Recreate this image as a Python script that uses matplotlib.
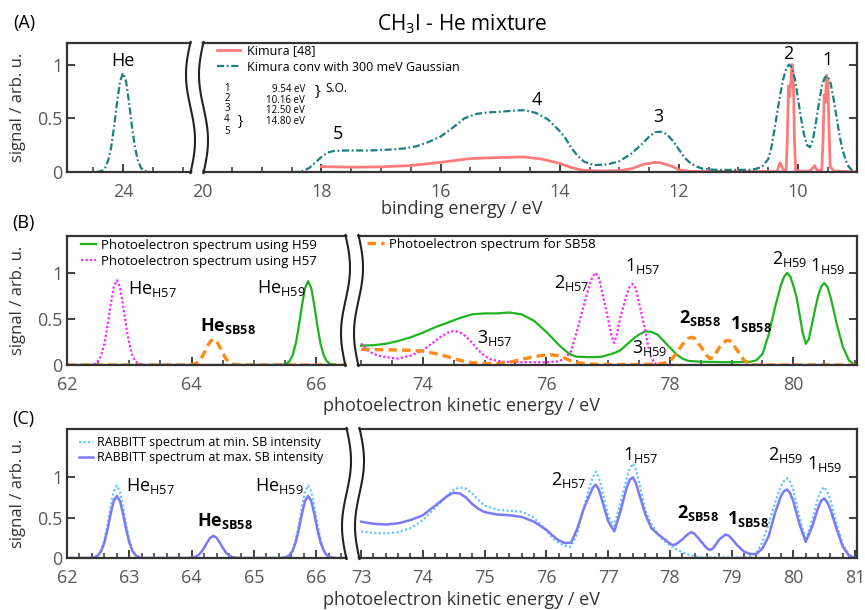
import numpy as np
import matplotlib
matplotlib.use('Agg')
import matplotlib.pyplot as plt
from matplotlib.lines import Line2D
from matplotlib.patches import Polygon
from matplotlib.ticker import MultipleLocator, FixedLocator

# ------------------------------------------------------------------ data
# Panel A (binding energy, eV)
kimura_E = [18.0, 17.5, 17.0, 16.5, 16.0, 15.5, 15.0, 14.6, 14.3, 14.0,
            13.8, 13.6, 13.3, 13.0, 12.8, 12.6, 12.4, 12.3, 12.1, 12.0,
            11.8, 11.0, 10.5, 10.35, 10.32, 10.30, 10.27, 10.24, 10.20, 10.18,
            10.16, 10.14, 10.12, 10.10, 10.08, 10.06, 10.04, 9.95, 9.80, 9.75,
            9.72, 9.70, 9.65, 9.60, 9.58, 9.56, 9.54, 9.52, 9.50, 9.48,
            9.46, 9.40, 9.20, 9.00]
kimura_S = [0.05, 0.045, 0.048, 0.06, 0.09, 0.125, 0.135, 0.14, 0.12, 0.08,
            0.04, 0.015, 0.01, 0.012, 0.03, 0.07, 0.09, 0.085, 0.05, 0.02,
            0.005, 0.005, 0.005, 0.005, 0.06, 0.085, 0.05, 0.01, 0.01, 0.3,
            0.8, 0.7, 0.85, 1.0, 0.9, 0.3, 0.02, 0.005, 0.01, 0.04,
            0.06, 0.03, 0.01, 0.02, 0.3, 0.72, 0.65, 0.9, 0.85, 0.4,
            0.05, 0.01, 0.005, 0.0]

conv_E = [18.5, 18.4, 18.3, 18.2, 18.1, 18.0, 17.9, 17.8,
          17.6, 17.4, 17.2, 17.0, 16.8, 16.6, 16.4, 16.2, 16.0, 15.8,
          15.6, 15.4, 15.2, 15.0, 14.8, 14.6, 14.4, 14.2, 14.0,
          13.9, 13.8, 13.7, 13.6, 13.5, 13.4,
          13.2, 13.0, 12.8, 12.6, 12.5, 12.4, 12.3, 12.2, 12.1, 12.0,
          11.9, 11.8, 11.7, 11.6, 11.4, 11.0, 10.8, 10.7, 10.6, 10.5,
          10.45, 10.4, 10.35, 10.3, 10.25, 10.2, 10.15, 10.1, 10.05, 10.0,
          9.95, 9.9, 9.85, 9.8, 9.75, 9.7, 9.65, 9.6, 9.55, 9.5,
          9.45, 9.4, 9.35, 9.3, 9.25, 9.2, 9.15, 9.1, 9.05, 9.0]
conv_S = [0.0, 0.0, 0.01, 0.04, 0.09, 0.14, 0.18, 0.195,
          0.2, 0.2, 0.2, 0.205, 0.21, 0.22, 0.24, 0.28, 0.33, 0.41,
          0.5, 0.54, 0.555, 0.56, 0.57, 0.575, 0.55, 0.49, 0.38,
          0.31, 0.22, 0.15, 0.1, 0.075, 0.065,
          0.07, 0.1, 0.17, 0.27, 0.33, 0.37, 0.375, 0.35, 0.29, 0.21,
          0.13, 0.08, 0.05, 0.03, 0.02, 0.02, 0.02, 0.03, 0.05, 0.12,
          0.22, 0.38, 0.55, 0.72, 0.86, 0.96, 1.0, 0.97, 0.86, 0.68,
          0.5, 0.35, 0.25, 0.23, 0.3, 0.46, 0.64, 0.8, 0.88, 0.89,
          0.82, 0.67, 0.5, 0.33, 0.2, 0.11, 0.05, 0.02, 0.005, 0.0]

heA_E = [24.45, 24.4, 24.35, 24.3, 24.25, 24.2, 24.15, 24.1, 24.05, 24.0,
         23.95, 23.9, 23.85, 23.8, 23.75, 23.7, 23.65, 23.6, 23.55]
heA_S = [0, 0.004, 0.013, 0.040, 0.105, 0.229, 0.421, 0.650, 0.844, 0.92,
         0.844, 0.650, 0.421, 0.229, 0.105, 0.040, 0.013, 0.004, 0]

# Panel B (photoelectron kinetic energy, eV) - left piece
magL_E = [62.0, 62.35, 62.4, 62.45, 62.5, 62.55, 62.6, 62.65, 62.7, 62.75,
          62.8, 62.85, 62.9, 62.95, 63.0, 63.05, 63.1, 63.15, 63.2, 63.25, 66.6]
magL_S = [0, 0, 0.004, 0.013, 0.040, 0.105, 0.229, 0.421, 0.650, 0.844,
          0.92, 0.844, 0.650, 0.421, 0.229, 0.105, 0.040, 0.013, 0.004, 0, 0]
orgL_E = [62.0, 63.9, 63.95, 64.0, 64.05, 64.1, 64.15, 64.2, 64.25, 64.3,
          64.35, 64.4, 64.45, 64.5, 64.55, 64.6, 64.65, 64.7, 64.75, 64.8, 66.6]
orgL_S = [0, 0, 0.001, 0.004, 0.012, 0.032, 0.070, 0.128, 0.198, 0.257,
          0.28, 0.257, 0.198, 0.128, 0.070, 0.032, 0.012, 0.004, 0.001, 0, 0]
grnL_E = [62.0, 65.42, 65.47, 65.52, 65.57, 65.62, 65.67, 65.72, 65.77, 65.82,
          65.87, 65.92, 65.97, 66.02, 66.07, 66.12, 66.17, 66.22, 66.27, 66.32, 66.6]
grnL_S = [0, 0, 0.004, 0.013, 0.040, 0.104, 0.227, 0.417, 0.643, 0.834,
          0.91, 0.834, 0.643, 0.417, 0.227, 0.104, 0.040, 0.013, 0.004, 0, 0]

# Panel B - right piece
grnR_E = [73.0, 73.2, 73.4, 73.6, 73.8, 74.0, 74.2, 74.4, 74.6, 74.8,
          75.0, 75.2, 75.4, 75.6, 75.8, 76.0, 76.1, 76.2, 76.3, 76.4,
          76.5, 76.7, 76.9, 77.0, 77.1, 77.2, 77.3, 77.4, 77.5, 77.6,
          77.7, 77.8, 77.9, 78.0, 78.1, 78.2, 78.3, 78.5, 79.0, 79.3,
          79.4, 79.5, 79.6, 79.7, 79.8, 79.85, 79.9, 79.95, 80.0, 80.05,
          80.1, 80.15, 80.2, 80.25, 80.3, 80.35, 80.4, 80.45, 80.5, 80.55,
          80.6, 80.65, 80.7, 80.8, 80.9, 81.0]
grnR_S = [0.21, 0.215, 0.23, 0.26, 0.30, 0.35, 0.41, 0.46, 0.51, 0.55,
          0.56, 0.56, 0.57, 0.55, 0.48, 0.36, 0.29, 0.22, 0.16, 0.11,
          0.09, 0.085, 0.09, 0.11, 0.13, 0.16, 0.22, 0.28, 0.33, 0.365,
          0.36, 0.33, 0.26, 0.19, 0.12, 0.07, 0.045, 0.035, 0.03, 0.035,
          0.05, 0.12, 0.33, 0.62, 0.87, 0.96, 1.0, 0.96, 0.86, 0.74,
          0.55, 0.35, 0.23, 0.28, 0.44, 0.6, 0.75, 0.85, 0.89, 0.85,
          0.74, 0.6, 0.45, 0.2, 0.05, 0.0]
magR_E = [73.0, 73.1, 73.2, 73.3, 73.5, 73.6, 73.8, 74.0, 74.2, 74.3,
          74.4, 74.5, 74.6, 74.7, 74.8, 74.9, 75.0, 75.1, 75.3, 75.6,
          76.0, 76.2, 76.3, 76.4, 76.5, 76.6, 76.7, 76.75, 76.8, 76.85,
          76.9, 77.0, 77.05, 77.1, 77.15, 77.2, 77.3, 77.35, 77.4, 77.45,
          77.5, 77.6, 77.65, 77.7, 77.75, 77.8, 81.0]
magR_S = [0.235, 0.16, 0.12, 0.1, 0.075, 0.07, 0.1, 0.16, 0.26, 0.31,
          0.35, 0.37, 0.355, 0.31, 0.24, 0.16, 0.1, 0.06, 0.035, 0.03,
          0.03, 0.04, 0.07, 0.15, 0.38, 0.63, 0.87, 0.96, 1.0, 0.95,
          0.8, 0.5, 0.33, 0.24, 0.35, 0.52, 0.76, 0.85, 0.88, 0.83,
          0.68, 0.38, 0.2, 0.08, 0.02, 0.0, 0.0]
orgR_E = [73.0, 73.4, 73.8, 74.0, 74.2, 74.4, 74.6, 74.8, 75.0, 75.2,
          75.4, 75.6, 75.8, 76.0, 76.1, 76.2, 76.3, 76.4, 76.5, 76.7,
          77.0, 77.5, 77.8, 77.9, 78.0, 78.1, 78.2, 78.3, 78.35, 78.4,
          78.5, 78.6, 78.65, 78.7, 78.8, 78.9, 78.95, 79.0, 79.1, 79.2,
          79.3, 79.4, 81.0]
orgR_S = [0.17, 0.165, 0.16, 0.15, 0.125, 0.09, 0.05, 0.025, 0.015, 0.015,
          0.03, 0.06, 0.09, 0.11, 0.11, 0.1, 0.075, 0.045, 0.025, 0.01,
          0.005, 0.005, 0.01, 0.02, 0.04, 0.12, 0.22, 0.29, 0.3, 0.29,
          0.2, 0.1, 0.07, 0.08, 0.19, 0.26, 0.27, 0.25, 0.15, 0.05,
          0.01, 0.0, 0.0]

# Panel C - left piece
dotL_E = [62.0, 62.35,
          62.4, 62.45, 62.5, 62.55, 62.6, 62.65, 62.7, 62.75, 62.8,
          62.85, 62.9, 62.95, 63.0, 63.05, 63.1, 63.15, 63.2,
          63.25, 65.42,
          65.47, 65.52, 65.57, 65.62, 65.67, 65.72, 65.77, 65.82, 65.87,
          65.92, 65.97, 66.02, 66.07, 66.12, 66.17, 66.22, 66.27,
          66.32, 66.6]
dotL_S = [0, 0,
          0.004, 0.013, 0.040, 0.103, 0.224, 0.412, 0.636, 0.825, 0.90,
          0.825, 0.636, 0.412, 0.224, 0.103, 0.040, 0.013, 0.004,
          0, 0,
          0.004, 0.013, 0.040, 0.103, 0.224, 0.412, 0.636, 0.825, 0.90,
          0.825, 0.636, 0.412, 0.224, 0.103, 0.040, 0.013, 0.004,
          0, 0]
solL_E = [62.0, 62.35,
          62.4, 62.45, 62.5, 62.55, 62.6, 62.65, 62.7, 62.75, 62.8,
          62.85, 62.9, 62.95, 63.0, 63.05, 63.1, 63.15, 63.2,
          63.25, 63.9,
          63.95, 64.0, 64.05, 64.1, 64.15, 64.2, 64.25, 64.3, 64.35,
          64.4, 64.45, 64.5, 64.55, 64.6, 64.65, 64.7, 64.75,
          64.8, 65.42,
          65.47, 65.52, 65.57, 65.62, 65.67, 65.72, 65.77, 65.82, 65.87,
          65.92, 65.97, 66.02, 66.07, 66.12, 66.17, 66.22, 66.27,
          66.32, 66.6]
solL_S = [0, 0,
          0.003, 0.011, 0.034, 0.088, 0.192, 0.353, 0.544, 0.706, 0.77,
          0.706, 0.544, 0.353, 0.192, 0.088, 0.034, 0.011, 0.003,
          0, 0,
          0.001, 0.004, 0.012, 0.031, 0.068, 0.126, 0.194, 0.252, 0.275,
          0.252, 0.194, 0.126, 0.068, 0.031, 0.012, 0.004, 0.001,
          0, 0,
          0.003, 0.011, 0.034, 0.088, 0.192, 0.353, 0.544, 0.706, 0.77,
          0.706, 0.544, 0.353, 0.192, 0.088, 0.034, 0.011, 0.003,
          0, 0]

# Panel C - right piece
solR_E = [73.0, 73.2, 73.4, 73.6, 73.8, 74.0, 74.2, 74.4, 74.5, 74.6,
          74.7, 74.8, 74.9, 75.0, 75.2, 75.4, 75.6, 75.8, 76.0, 76.1,
          76.2, 76.3, 76.4, 76.5, 76.6, 76.7, 76.75, 76.8, 76.85, 76.9,
          77.0, 77.1, 77.2, 77.3, 77.35, 77.4, 77.45, 77.5, 77.6, 77.7,
          77.8, 77.9, 78.0, 78.05, 78.1, 78.2, 78.3, 78.35, 78.4, 78.5,
          78.6, 78.65, 78.7, 78.8, 78.9, 78.95, 79.0, 79.1, 79.2, 79.3,
          79.4, 79.5, 79.6, 79.7, 79.8, 79.85, 79.9, 79.95, 80.0, 80.1,
          80.2, 80.3, 80.4, 80.45, 80.5, 80.55, 80.6, 80.7, 80.8, 80.9,
          81.0]
solR_S = [0.45, 0.425, 0.415, 0.43, 0.47, 0.53, 0.65, 0.77, 0.81, 0.8,
          0.75, 0.67, 0.61, 0.57, 0.54, 0.53, 0.51, 0.45, 0.35, 0.28,
          0.22, 0.185, 0.19, 0.36, 0.6, 0.78, 0.87, 0.91, 0.85, 0.72,
          0.46, 0.33, 0.58, 0.87, 0.97, 1.0, 0.93, 0.8, 0.55, 0.37,
          0.3, 0.24, 0.18, 0.16, 0.17, 0.23, 0.3, 0.32, 0.3, 0.21,
          0.12, 0.1, 0.12, 0.23, 0.29, 0.28, 0.24, 0.15, 0.08, 0.05,
          0.05, 0.12, 0.27, 0.55, 0.77, 0.83, 0.85, 0.8, 0.7, 0.42,
          0.2, 0.38, 0.62, 0.71, 0.74, 0.69, 0.6, 0.36, 0.14, 0.03,
          0.0]
dotR_E = [73.0, 73.2, 73.4, 73.6, 73.8, 74.0, 74.2, 74.4, 74.5, 74.6,
          74.7, 74.8, 74.9, 75.0, 75.2, 75.4, 75.6, 75.8, 76.0, 76.1,
          76.2, 76.3, 76.4, 76.5, 76.6, 76.7, 76.75, 76.8, 76.85, 76.9,
          77.0, 77.1, 77.2, 77.3, 77.35, 77.4, 77.45, 77.5, 77.6, 77.7,
          77.8, 77.9, 78.0, 78.1, 78.2, 78.3, 78.4, 78.5, 79.2, 79.3,
          79.4, 79.5, 79.6, 79.7, 79.8, 79.85, 79.9, 79.95, 80.0, 80.1,
          80.2, 80.3, 80.4, 80.45, 80.5, 80.55, 80.6, 80.7, 80.8, 80.9,
          81.0]
dotR_S = [0.33, 0.31, 0.305, 0.32, 0.37, 0.47, 0.62, 0.78, 0.85, 0.875,
          0.86, 0.8, 0.72, 0.65, 0.6, 0.585, 0.575, 0.5, 0.34, 0.25,
          0.19, 0.15, 0.14, 0.3, 0.6, 0.88, 1.0, 1.07, 1.0, 0.86,
          0.52, 0.4, 0.68, 0.98, 1.11, 1.17, 1.1, 0.95, 0.6, 0.42,
          0.3, 0.22, 0.16, 0.11, 0.07, 0.04, 0.02, 0.01, 0.005, 0.02,
          0.06, 0.2, 0.42, 0.68, 0.89, 0.96, 0.99, 0.94, 0.84, 0.5,
          0.22, 0.45, 0.75, 0.84, 0.88, 0.82, 0.72, 0.42, 0.17, 0.04,
          0.0]

# table of states (panel A)
state_ids_so = ['1', '2', '3']
state_ids_45 = ['4', '5']
state_energies_so = ['9.54 eV', '10.16 eV', '12.50 eV']
state_energy_45 = '14.80 eV'

# ------------------------------------------------------------------ style
FONT = 'Open Sans'
plt.rcParams['font.family'] = [FONT, 'DejaVu Sans']
plt.rcParams['mathtext.fontset'] = 'custom'
plt.rcParams['mathtext.rm'] = FONT
plt.rcParams['mathtext.it'] = FONT + ':italic'
plt.rcParams['mathtext.bf'] = FONT + ':bold'

SPINE = '#333333'
TICKC = '#595959'
C_RED = '#ff7b7b'
C_TEAL = '#1a7f80'
C_GRN = '#1fb41f'
C_MAG = '#ff22ff'
C_ORG = '#ff8a1a'
C_LBLUE = '#66c4ff'
C_BLUE = '#7a7af5'

W, H = 865, 610
fig = plt.figure(figsize=(W / 100, H / 100), dpi=100)


def fx(px):
    return px / W


def fy(py):
    return 1 - py / H


def make_axes(x0, x1, ytop, ybot):
    return fig.add_axes([fx(x0), fy(ybot), (x1 - x0) / W, (ybot - ytop) / H])


def style(ax, side, ylim, xlim, majors, minor_step, labels=None):
    ax.set_xlim(*xlim)
    ax.set_ylim(*ylim)
    for s in ax.spines.values():
        s.set_color(SPINE)
        s.set_linewidth(1.6)
    ax.set_yticks([0, 0.5, 1])
    if side == 'left':
        ax.spines['right'].set_visible(False)
        ax.set_yticklabels(['0', '0.5', '1'])
        ax.tick_params(axis='y', left=True, right=False, labelleft=True,
                       direction='in', length=6, width=1.3, color=SPINE,
                       labelcolor=TICKC, labelsize=13, pad=3)
    else:
        ax.spines['left'].set_visible(False)
        ax.tick_params(axis='y', left=False, right=True, labelleft=False,
                       labelright=False, direction='in', length=6, width=1.3,
                       color=SPINE)
    ax.xaxis.set_major_locator(FixedLocator(majors))
    ax.xaxis.set_minor_locator(MultipleLocator(minor_step))
    ax.set_xticklabels(labels if labels is not None else [str(m) for m in majors])
    ax.tick_params(axis='x', which='major', direction='in', length=6, width=1.3,
                   color=SPINE, labelcolor=TICKC, labelsize=13, pad=8, top=False)
    ax.tick_params(axis='x', which='minor', direction='in', length=3.5, width=1.1,
                   color=SPINE, top=False)


def draw_break(xc, ytop, ybot, sign):
    t = np.linspace(0, 1, 80)
    gap, amp = 13, 4.5
    yy = ytop - 1 + (ybot - ytop + 2) * t
    wob = sign * amp * np.sin(2 * np.pi * t)
    xl = xc - gap / 2 + wob
    xr = xc + gap / 2 + wob
    px = np.concatenate([xl + 1.5, xr[::-1] - 1.5])
    py = np.concatenate([yy, yy[::-1]])
    py[0] -= 3; py[len(yy) - 1] += 3; py[len(yy)] += 3; py[-1] -= 3
    fig.add_artist(Polygon(np.column_stack([px / W, 1 - py / H]), closed=True,
                           transform=fig.transFigure, facecolor='white',
                           edgecolor='none', zorder=10))
    for xs in (xl, xr):
        fig.add_artist(Line2D(xs / W, 1 - yy / H, transform=fig.transFigure,
                              color='#222222', lw=1.5, zorder=11))


def lab(ax, x, y, main, sub, bold=False, size=13):
    if bold:
        s = r'$\mathbf{%s}_{\mathbf{%s}}$' % (main, sub)
    else:
        s = main + r'$_{\mathrm{%s}}$' % sub
    ax.text(x, y, s, fontsize=size, ha='left', va='baseline', color='black')


TEAL_DASH = (0, (3.2, 1.2, 0.8, 1.2))

# ------------------------------------------------------------------ panel A
aL = make_axes(67, 197, 43, 172)
aR = make_axes(197, 857, 43, 172)
style(aL, 'left', (0, 1.2), (24.94, 22.76), [24], 0.5)
style(aR, 'right', (0, 1.2), (20.09, 9.01), [20, 18, 16, 14, 12, 10], 0.5)

aL.plot(heA_E, heA_S, color=C_TEAL, lw=1.6, linestyle=TEAL_DASH)
lr, = aR.plot(kimura_E, kimura_S, color=C_RED, lw=2.0, label='Kimura [48]')
lt, = aR.plot(conv_E, conv_S, color=C_TEAL, lw=1.6, linestyle=TEAL_DASH,
              label='Kimura conv with 300 meV Gaussian')

aL.text(24.0, 1.03, 'He', fontsize=13, ha='center', va='center')
for x, y, s in [(17.72, 0.35, '5'), (14.38, 0.67, '4'), (12.35, 0.51, '3'),
                (10.17, 1.10, '2'), (9.51, 1.04, '1')]:
    aR.text(x, y, s, fontsize=13, ha='center', va='center')

aR.legend(handles=[lr, lt], loc='upper left', bbox_to_anchor=(fx(217), fy(44)),
          bbox_transform=fig.transFigure, frameon=False, fontsize=9,
          borderpad=0, borderaxespad=0, handlelength=1.8, handletextpad=0.6,
          labelspacing=0.3)

# state table (multi-line texts so rows stay tight without overlapping)
fig.text(fx(227), fy(83), '\n'.join(state_ids_so), fontsize=7, ha='center',
         va='top', linespacing=0.85)
fig.text(fx(227), fy(113.5), '\n'.join(state_ids_45), fontsize=7, ha='center',
         va='top', linespacing=1.15)
fig.text(fx(305), fy(84.5), '\n'.join(state_energies_so), fontsize=7, ha='right',
         va='top', multialignment='right', linespacing=0.9)
fig.text(fx(305), fy(121), state_energy_45, fontsize=7, ha='right', va='center')
fig.text(fx(317), fy(91), '}', fontsize=11, ha='center', va='center')
fig.text(fx(325), fy(88.5), 'S.O.', fontsize=8.5, ha='left', va='center')
fig.text(fx(240), fy(122), '}', fontsize=10, ha='center', va='center')

# ------------------------------------------------------------------ panel B
bL = make_axes(67, 353, 236, 365)
bR = make_axes(353, 857, 236, 365)
style(bL, 'left', (0, 1.4), (62.0, 66.59), [62, 64, 66], 0.5)
style(bR, 'right', (0, 1.4), (72.87, 81.03), [74, 76, 78, 80], 0.5)

ORG_DASH = (0, (2.6, 1.5))
bL.plot(orgL_E, orgL_S, color=C_ORG, lw=2.4, linestyle=ORG_DASH)
lg, = bL.plot(grnL_E, grnL_S, color=C_GRN, lw=1.6, label='Photoelectron spectrum using H59')
lm, = bL.plot(magL_E, magL_S, color=C_MAG, lw=1.6, linestyle=(0, (1, 1)),
              label='Photoelectron spectrum using H57')
bR.plot(grnR_E, grnR_S, color=C_GRN, lw=1.6)
bR.plot(magR_E, magR_S, color=C_MAG, lw=1.6, linestyle=(0, (1, 1)))
lo, = bR.plot(orgR_E, orgR_S, color=C_ORG, lw=2.4, linestyle=ORG_DASH,
              label='Photoelectron spectrum for SB58')

bL.legend(handles=[lg, lm], loc='upper left', bbox_to_anchor=(fx(81), fy(239)),
          bbox_transform=fig.transFigure, frameon=False, fontsize=9.5,
          borderpad=0, borderaxespad=0, handlelength=1.1, handletextpad=0.4,
          labelspacing=0.2)
bR.legend(handles=[lo], loc='upper left', bbox_to_anchor=(fx(367), fy(238)),
          bbox_transform=fig.transFigure, frameon=False, fontsize=9.5,
          borderpad=0, borderaxespad=0, handlelength=1.3, handletextpad=0.4)

lab(bL, 62.98, 0.77, 'He', 'H57')
lab(bL, 64.13, 0.37, 'He', 'SB58', bold=True)
lab(bL, 65.05, 0.78, 'He', 'H59')
lab(bR, 76.12, 0.84, '2', 'H57')
lab(bR, 77.27, 1.02, '1', 'H57')
lab(bR, 74.88, 0.24, '3', 'H57')
lab(bR, 77.39, 0.13, '3', 'H59')
lab(bR, 78.15, 0.46, '2', 'SB58', bold=True)
lab(bR, 78.97, 0.39, '1', 'SB58', bold=True)
lab(bR, 79.65, 1.10, '2', 'H59')
lab(bR, 80.27, 1.02, '1', 'H59')

# ------------------------------------------------------------------ panel C
cL = make_axes(67, 353, 429, 558)
cR = make_axes(353, 857, 429, 558)
style(cL, 'left', (0, 1.6), (62.0, 66.59), [62, 63, 64, 65, 66], 0.2)
style(cR, 'right', (0, 1.6), (72.87, 81.03), [73, 74, 75, 76, 77, 78, 79, 80, 81], 0.2)

ld, = cL.plot(dotL_E, dotL_S, color=C_LBLUE, lw=1.6, linestyle=(0, (1, 1)),
              label='RABBITT spectrum at min. SB intensity')
ls, = cL.plot(solL_E, solL_S, color=C_BLUE, lw=1.8,
              label='RABBITT spectrum at max. SB intensity')
cR.plot(dotR_E, dotR_S, color=C_LBLUE, lw=1.6, linestyle=(0, (1, 1)))
cR.plot(solR_E, solR_S, color=C_BLUE, lw=1.8)

cL.legend(handles=[ld, ls], loc='upper left', bbox_to_anchor=(fx(79), fy(436)),
          bbox_transform=fig.transFigure, frameon=False, fontsize=9,
          borderpad=0, borderaxespad=0, handlelength=1.1, handletextpad=0.35,
          labelspacing=0.15)

lab(cL, 62.95, 0.83, 'He', 'H57')
lab(cL, 64.09, 0.40, 'He', 'SB58', bold=True)
lab(cL, 65.02, 0.83, 'He', 'H59')
lab(cR, 76.07, 0.91, '2', 'H57')
lab(cR, 77.24, 1.22, '1', 'H57')
lab(cR, 78.11, 0.49, '2', 'SB58', bold=True)
lab(cR, 78.92, 0.42, '1', 'SB58', bold=True)
lab(cR, 79.59, 1.22, '2', 'H59')
lab(cR, 80.22, 1.11, '1', 'H59')

# ------------------------------------------------------------------ breaks
draw_break(197, 43, 172, -1)
draw_break(352, 236, 365, 1)
draw_break(353, 429, 558, 1)

# ------------------------------------------------------------------ figure texts
fig.text(fx(462), fy(30), r'CH$_3$I - He mixture', fontsize=15, ha='center', va='baseline')
fig.text(fx(24), fy(23), '(A)', fontsize=13, ha='center', va='center')
fig.text(fx(23), fy(223), '(B)', fontsize=13, ha='center', va='center')
fig.text(fx(23), fy(419), '(C)', fontsize=13, ha='center', va='center')
fig.text(fx(462), fy(209), 'binding energy / eV', fontsize=13, ha='center', va='center', color='#333333')
fig.text(fx(462), fy(406), 'photoelectron kinetic energy / eV', fontsize=13, ha='center', va='center', color='#333333')
fig.text(fx(462), fy(600), 'photoelectron kinetic energy / eV', fontsize=13, ha='center', va='center', color='#333333')
for yc in [(43 + 172) / 2, (236 + 365) / 2, (429 + 558) / 2]:
    fig.text(fx(18), fy(yc), 'signal / arb. u.', fontsize=12, rotation=90,
             ha='center', va='center', color='#333333')

fig.savefig('out.png', dpi=100)
